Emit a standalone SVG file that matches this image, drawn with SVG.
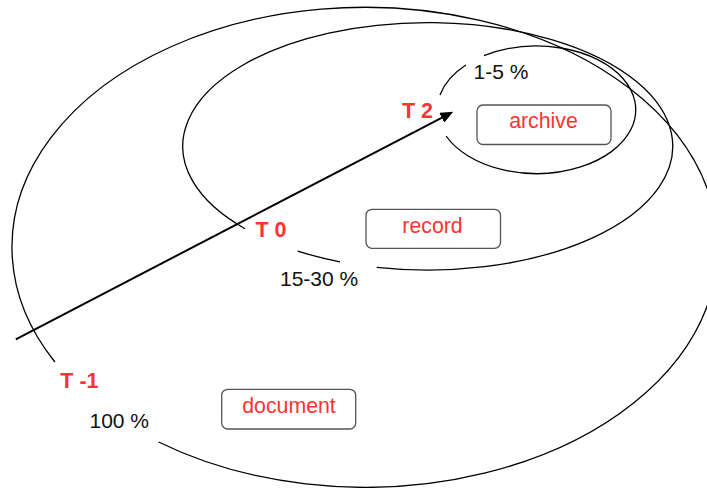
<svg xmlns="http://www.w3.org/2000/svg" width="707" height="488" viewBox="0 0 707 488">
<style>
.ring{fill:none;stroke:#000;stroke-width:1.3}
.box{fill:#fff;stroke:#555;stroke-width:1.3}
.pct{font-family:"Liberation Sans",Arial,sans-serif;font-size:21px;fill:#111}
.tl{font-family:"Liberation Sans",Arial,sans-serif;font-size:21.5px;font-weight:bold;fill:#f33}
.bt{font-family:"Liberation Sans",Arial,sans-serif;font-size:21.3px;fill:#f33;text-anchor:middle}
.arrow{fill:none;stroke:#000;stroke-width:2}
</style>
<defs>
<marker id="ah" viewBox="0 0 13 11" refX="2" refY="5.5" markerWidth="13" markerHeight="11" markerUnits="userSpaceOnUse" orient="auto">
<path d="M0,0 L13,5.5 L0,11 z" fill="#000"/>
</marker>
</defs>
<g id="ring-document">
<path class="ring" d="M158.6 442 A353 240 0 1 0 54.9 362"/>
</g>
<g id="ring-record">
<path class="ring" d="M376.7 267.3 A245 123.7 0 1 0 245 228.7"/>
<path class="ring" d="M297.7 251.15 A245 123.7 0 0 0 340 261.8"/>
</g>
<g id="ring-archive">
<path class="ring" d="M484 55.7 A99.2 63.75 0 1 1 446.1 136"/>
<path class="ring" d="M440 95 A99.2 63.75 0 0 1 465.85 65"/>
</g>
<g id="connectors">
<line class="arrow" x1="15.8" y1="339.3" x2="443.5" y2="116.8" marker-end="url(#ah)"/>
</g>
<g id="node-archive">
<rect class="box" x="477" y="105" width="134" height="39.5" rx="6"/>
<text class="bt" x="543.5" y="128.3">archive</text>
</g>
<g id="node-record">
<rect class="box" x="366" y="209.3" width="134.5" height="39" rx="6"/>
<text class="bt" x="432.5" y="232.7">record</text>
</g>
<g id="node-document">
<rect class="box" x="221.7" y="389.3" width="134" height="39.7" rx="6"/>
<text class="bt" x="289" y="413.3">document</text>
</g>
<g id="labels">
<text class="pct" x="473.5" y="79">1-5 %</text>
<text class="pct" x="280" y="285.7">15-30 %</text>
<text class="pct" x="89.5" y="427.7">100 %</text>
<text class="tl" x="402" y="117.7">T 2</text>
<text class="tl" x="255.5" y="236.7">T 0</text>
<text class="tl" x="60.3" y="387.7">T -1</text>
</g>
</svg>
